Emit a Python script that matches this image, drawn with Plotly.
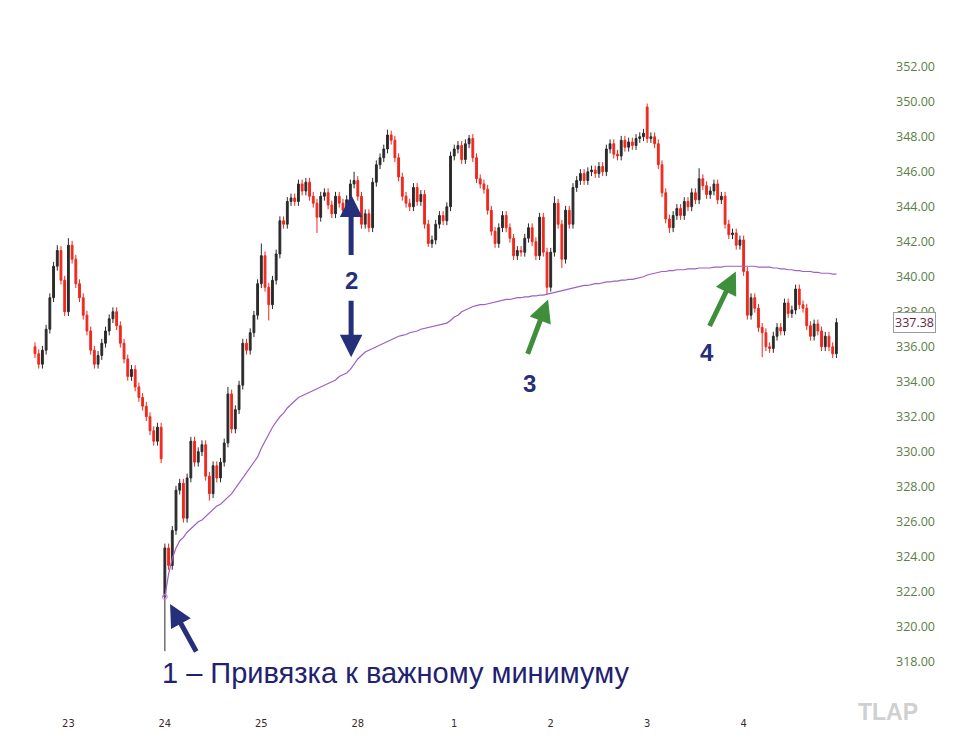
import plotly.graph_objects as go

# ---------------- data (15-min candles) ----------------
day_ticks = [9, 35, 61, 87, 113, 139, 165, 191]
day_labels = ["23", "24", "25", "28", "1", "2", "3", "4"]

first_open = 336.0
closes = [
    335.6, 335.0, 335.8, 337.0, 338.8, 340.6, 341.5, 339.8, 338.0, 341.8,
    341.0, 339.6, 338.8, 337.8, 336.9, 335.8, 335.0, 335.5, 336.2, 336.9,
    337.6, 338.0, 337.2, 336.2, 335.3, 334.3, 334.7, 333.7, 333.1, 332.6,
    332.0, 331.2, 330.6, 331.4, 329.6, 324.5, 323.5, 325.5, 327.8, 328.2,
    326.2, 328.5, 330.6, 329.4, 330.0, 330.4, 328.6, 327.6, 329.2, 328.5,
    329.4, 330.5, 333.3, 331.3, 332.4, 333.8, 336.2, 335.8, 336.8, 337.8,
    339.6, 341.2, 339.4, 338.4, 339.8, 341.3, 343.2, 343.0, 344.3, 344.5,
    344.3, 345.3, 344.9, 345.4, 344.6, 344.2, 343.4, 344.6, 344.8, 344.1,
    343.6, 344.6, 344.2, 343.8, 344.4, 345.3, 345.5, 344.6, 343.0, 343.6,
    342.8, 345.4, 346.4, 346.8, 347.3, 348.1, 347.8, 346.8, 345.7, 344.6,
    344.2, 344.0, 345.1, 344.3, 344.7, 343.0, 341.9, 342.1, 343.0, 343.5,
    343.2, 344.0, 346.9, 347.3, 347.5, 346.7, 347.6, 347.9, 346.8, 345.6,
    345.3, 345.0, 343.8, 342.6, 341.9, 342.8, 343.5, 342.8, 342.2, 341.2,
    341.5, 341.4, 342.2, 342.8, 342.0, 341.2, 343.4, 341.4, 339.4, 341.4,
    344.2, 343.0, 341.0, 343.8, 343.0, 345.1, 345.5, 345.9, 345.5, 346.0,
    346.1, 345.9, 346.3, 346.0, 347.3, 347.6, 347.0, 346.9, 347.8, 347.4,
    347.7, 347.5, 347.9, 348.0, 348.2, 347.9, 348.0, 347.6, 346.4, 344.8,
    343.3, 342.8, 343.5, 343.9, 343.5, 344.3, 344.0, 344.8, 344.4, 345.6,
    345.2, 344.7, 344.9, 345.3, 344.4, 344.6, 343.0, 342.4, 342.5, 341.8,
    342.1, 340.3, 337.8, 338.8, 338.2, 337.1, 336.8, 336.0, 335.9, 336.6,
    337.1, 336.9, 338.5, 337.9, 338.1, 339.3, 338.4, 338.2, 337.2, 336.6,
    337.3, 336.9, 336.0, 336.6, 336.0, 335.6, 337.38,
]
gap_opens = {35: 321.7, 165: 349.7}
spike_highs = {6: 341.8, 9: 342.2, 52: 333.7, 61: 341.9, 86: 346.0, 95: 348.4,
               117: 348.1, 140: 344.6, 165: 349.9, 179: 346.2}
spike_lows = {35: 318.6, 47: 327.2, 63: 337.5, 76: 342.5, 106: 341.7, 138: 339.0,
              142: 340.5, 171: 342.5, 196: 335.4}

vwap_start = 35
vwap_vals = [
    321.7, 323.0, 323.9, 324.5, 324.9, 325.1, 325.4, 325.6, 325.8, 326.0,
    326.1, 326.3, 326.5, 326.7, 326.9, 327.0, 327.2, 327.4, 327.6, 327.9,
    328.2, 328.5, 328.8, 329.1, 329.4, 329.7, 330.2, 330.6, 331.0, 331.4,
    331.7, 332.0, 332.2, 332.5, 332.7, 332.9, 333.1, 333.2, 333.3, 333.4,
    333.5, 333.6, 333.7, 333.8, 333.9, 334.0, 334.1, 334.3, 334.4, 334.5,
    334.7, 335.0, 335.3, 335.5, 335.7, 335.8, 335.9, 336.0, 336.1, 336.2,
    336.3, 336.4, 336.5, 336.6, 336.65, 336.7, 336.8, 336.85, 336.9, 337.0,
    337.05, 337.1, 337.15, 337.2, 337.25, 337.3, 337.35, 337.5, 337.7, 337.8,
    338.0, 338.1, 338.2, 338.3, 338.35, 338.4, 338.4, 338.45, 338.5, 338.55,
    338.6, 338.65, 338.7, 338.7, 338.75, 338.8, 338.8, 338.85, 338.85, 338.9,
    338.9, 338.95, 338.95, 339.0, 339.05, 339.1, 339.15, 339.2, 339.25, 339.3,
    339.35, 339.4, 339.45, 339.5, 339.5, 339.55, 339.6, 339.6, 339.65, 339.7,
    339.7, 339.75, 339.75, 339.8, 339.8, 339.85, 339.85, 339.9, 339.95, 340.0,
    340.1, 340.15, 340.2, 340.25, 340.3, 340.3, 340.35, 340.35, 340.4, 340.4,
    340.4, 340.45, 340.45, 340.45, 340.5, 340.5, 340.5, 340.5, 340.55, 340.55,
    340.55, 340.6, 340.6, 340.6, 340.6, 340.6, 340.6, 340.6, 340.6, 340.6,
    340.55, 340.55, 340.55, 340.55, 340.5, 340.5, 340.45, 340.45, 340.4, 340.4,
    340.35, 340.35, 340.3, 340.3, 340.3, 340.25, 340.25, 340.2, 340.2, 340.2,
    340.15, 340.15,
]
y_ticks = [318 + 2 * k for k in range(18)]
last_price = closes[-1]

# ---------------- build OHLC ----------------
WICK = 0.25
n = len(closes)
idx = list(range(n))
opens, highs, lows = [], [], []
for i, c in enumerate(closes):
    o = first_open if i == 0 else closes[i - 1]
    o = gap_opens.get(i, o)
    opens.append(o)
    highs.append(spike_highs.get(i, max(o, c) + WICK))
    lows.append(spike_lows.get(i, min(o, c) - WICK))

vwap = [None] * vwap_start + vwap_vals

NAVY = "#26307a"
GREEN = "#3f8f3a"

# plot area in pixels (for paper-referenced texts)
L, R, T, B = 30, 87, 65, 50
PW, PH = 972 - L - R, 750 - T - B


def px(xp):
    return (xp - L) / PW


def py(yp):
    return (750 - B - yp) / PH


fig = go.Figure()
fig.add_trace(go.Candlestick(
    x=idx, open=opens, high=highs, low=lows, close=closes,
    increasing=dict(line=dict(color="#2a2a2a", width=1), fillcolor="#2a2a2a"),
    decreasing=dict(line=dict(color="#f0281c", width=1), fillcolor="#f0281c"),
    whiskerwidth=0, hoverinfo="skip", showlegend=False,
))
fig.add_trace(go.Scatter(
    x=idx, y=vwap, mode="lines", line=dict(color="#9f5fc2", width=1.2),
    hoverinfo="skip", showlegend=False,
))
fig.add_trace(go.Scatter(
    x=[vwap_start], y=[vwap_vals[0]], mode="markers",
    marker=dict(size=5, color="rgba(0,0,0,0)", line=dict(color="#c48ad8", width=1)),
    hoverinfo="skip", showlegend=False,
))

ann = []
# arrow 2 (up to price, down to VWAP)
ann.append(dict(x=85.2, y=344.7, ax=0, ay=62, xref="x", yref="y",
                showarrow=True, arrowhead=2, arrowsize=0.9, arrowwidth=5, arrowcolor=NAVY, text=""))
ann.append(dict(x=85.2, y=335.4, ax=0, ay=-58, xref="x", yref="y",
                showarrow=True, arrowhead=2, arrowsize=0.9, arrowwidth=5, arrowcolor=NAVY, text=""))
ann.append(dict(x=85.2, y=339.8, text="<b>2</b>", showarrow=False,
                font=dict(family="Liberation Sans, Arial", size=24, color=NAVY)))
# arrow 3
ann.append(dict(x=138.3, y=338.7, ax=-21, ay=56, xref="x", yref="y",
                showarrow=True, arrowhead=2, arrowsize=0.9, arrowwidth=5, arrowcolor=GREEN, text=""))
ann.append(dict(x=133.2, y=333.9, text="<b>3</b>", showarrow=False,
                font=dict(family="Liberation Sans, Arial", size=24, color=NAVY)))
# arrow 4
ann.append(dict(x=188.9, y=340.3, ax=-27, ay=56, xref="x", yref="y",
                showarrow=True, arrowhead=2, arrowsize=0.9, arrowwidth=5, arrowcolor=GREEN, text=""))
ann.append(dict(x=181.1, y=335.65, text="<b>4</b>", showarrow=False,
                font=dict(family="Liberation Sans, Arial", size=24, color=NAVY)))
# arrow 1
ann.append(dict(x=36.4, y=321.3, ax=27, ay=49, xref="x", yref="y",
                showarrow=True, arrowhead=2, arrowsize=0.9, arrowwidth=5, arrowcolor=NAVY, text=""))
ann.append(dict(x=px(160), y=py(673), xref="paper", yref="paper", xanchor="left", yanchor="middle",
                text="1 – Привязка к важному минимуму", showarrow=False,
                font=dict(family="Liberation Sans, Arial", size=29, color="#1f2270")))
# last price tag
ann.append(dict(x=px(914), y=last_price, xref="paper", yref="y", xanchor="center", yanchor="middle",
                text=f"{last_price:.2f}",
                showarrow=False, bgcolor="white", bordercolor="#9a9a9a", borderwidth=1, borderpad=1,
                font=dict(family="Open Sans, Noto Sans", size=12.5, color="#6b1d3f")))
# watermark
ann.append(dict(x=px(888), y=py(712), xref="paper", yref="paper", xanchor="center", yanchor="middle",
                text="<b>TLAP</b>", showarrow=False,
                font=dict(family="Liberation Sans, Arial", size=23, color="#d0d0d0")))

fig.update_layout(
    width=972, height=750,
    margin=dict(l=L, r=R, t=T, b=B),
    paper_bgcolor="white", plot_bgcolor="white",
    annotations=ann,
    xaxis=dict(range=[-1.35, 229.1], showgrid=False, zeroline=False, showline=False,
               tickvals=day_ticks, ticktext=day_labels, ticks="", ticklabelstandoff=15,
               tickfont=dict(family="Liberation Sans Narrow, DejaVu Sans Condensed", size=11, color="#3b2a2a"),
               rangeslider=dict(visible=False), fixedrange=True),
    yaxis=dict(range=[315.81, 352.1], side="right", showgrid=False, zeroline=False, showline=False,
               tickvals=y_ticks, ticktext=[f"{v:.2f}" for v in y_ticks], ticks="",
               ticklabelstandoff=10,
               tickfont=dict(family="Open Sans, Noto Sans", size=12.5, color="#5b8046")),
)

fig.write_html("out.html")
